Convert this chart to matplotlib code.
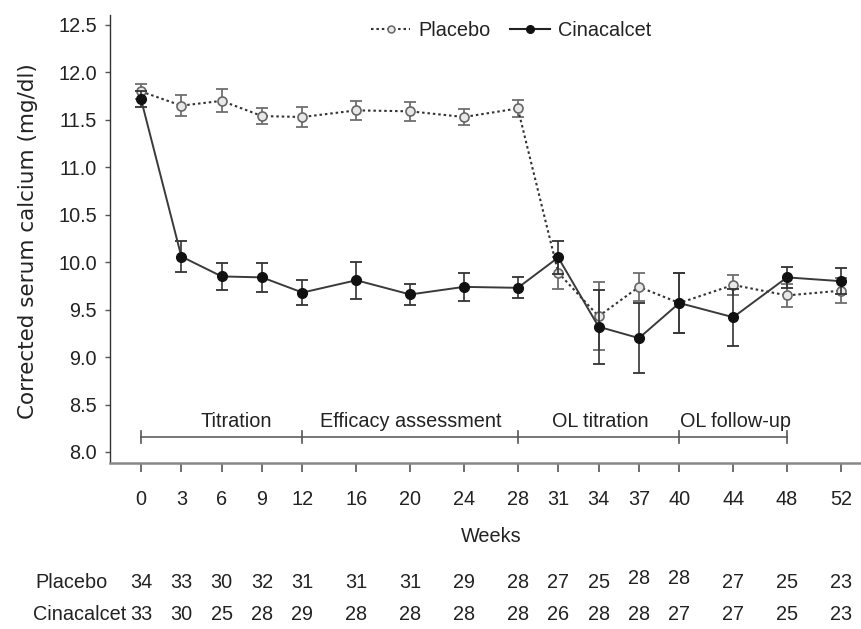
import matplotlib
matplotlib.use("Agg")
import matplotlib.pyplot as plt
import matplotlib.transforms as mtransforms
from matplotlib.lines import Line2D

# ---------------- data ----------------
weeks = [0, 3, 6, 9, 12, 16, 20, 24, 28, 31, 34, 37, 40, 44, 48, 52]
placebo_mean = [11.80, 11.65, 11.70, 11.54, 11.53, 11.60, 11.59, 11.53, 11.62,
                9.89, 9.43, 9.74, 9.57, 9.76, 9.65, 9.70]
placebo_err = [0.08, 0.11, 0.12, 0.08, 0.11, 0.10, 0.10, 0.08, 0.085,
               0.17, 0.36, 0.15, 0.32, 0.11, 0.12, 0.13]
cina_mean = [11.72, 10.06, 9.85, 9.84, 9.68, 9.81, 9.66, 9.74, 9.73,
             10.05, 9.32, 9.20, 9.57, 9.42, 9.84, 9.80]
cina_err = [0.08, 0.16, 0.145, 0.15, 0.135, 0.195, 0.11, 0.15, 0.11,
            0.17, 0.39, 0.37, 0.32, 0.30, 0.11, 0.14]
placebo_n = [34, 33, 30, 32, 31, 31, 31, 29, 28, 27, 25, 28, 28, 27, 25, 23]
cina_n = [33, 30, 25, 28, 29, 28, 28, 28, 28, 26, 28, 28, 27, 27, 25, 23]
phase_bounds = [0, 12, 28, 40, 48]
phase_labels = ["Titration", "Efficacy assessment", "OL titration", "OL follow-up"]
yticks = [8.0, 8.5, 9.0, 9.5, 10.0, 10.5, 11.0, 11.5, 12.0, 12.5]

# ---------------- style ----------------
NARROW = ["Liberation Sans", "DejaVu Sans"]
TXT = "#222222"
FS = 14.3

fig = plt.figure(figsize=(8.62, 6.29), dpi=100)
ax = fig.add_axes([110/862, (629-463)/629, (862-110)/862, (463-15)/629])

ax.set_xlim(-2.3, 53.57)
ax.set_ylim(7.884, 12.605)

# Placebo
ax.errorbar(weeks, placebo_mean, yerr=placebo_err, fmt="none", ecolor="#6e6e6e",
            elinewidth=1.3, capsize=4, capthick=1.3, zorder=2)
ax.plot(weeks, placebo_mean, linestyle=(0, (1.2, 1.4)), color="#333333", lw=1.5,
        marker="o", markersize=6.5, markerfacecolor="#e8e8e8",
        markeredgecolor="#666666", markeredgewidth=1.2, zorder=3)

# Cinacalcet
ax.errorbar(weeks, cina_mean, yerr=cina_err, fmt="none", ecolor="#333333",
            elinewidth=1.2, capsize=4, capthick=1.3, zorder=4)
ax.plot(weeks, cina_mean, linestyle="-", color="#3a3a3a", lw=1.4,
        marker="o", markersize=7, markerfacecolor="#111111",
        markeredgecolor="#111111", zorder=5)

# Phase bar
phase_y = 8.16
ax.plot([phase_bounds[0], phase_bounds[-1]], [phase_y, phase_y], color="#777777", lw=1.4, zorder=1)
for b in phase_bounds:
    ax.plot([b, b], [phase_y - 0.065, phase_y + 0.065], color="#555555", lw=1.2, zorder=1)
label_x = [7.05, 20.05, 34.1, 44.2]
for lx, lab in zip(label_x, phase_labels):
    ax.text(lx, 8.32, lab, ha="center", va="center", fontsize=FS, family=NARROW, color=TXT)

# Axes styling
for s in ["top", "right"]:
    ax.spines[s].set_visible(False)
ax.spines["left"].set_color("#333333")
ax.spines["left"].set_linewidth(1.0)
ax.spines["bottom"].set_color("#888888")
ax.spines["bottom"].set_linewidth(1.8)

ax.set_xticks(weeks)
ax.set_xticklabels([str(w) for w in weeks])
ax.set_yticks(yticks)
ax.set_yticklabels([f"{v:.1f}" for v in yticks])
ax.tick_params(axis="x", direction="out", length=6.5, width=1.2, color="#555555",
               pad=13, labelsize=FS, labelcolor=TXT)
ax.tick_params(axis="y", direction="out", length=3.6, width=1.0, color="#555555",
               pad=6, labelsize=FS, labelcolor=TXT)
for lab in ax.get_xticklabels() + ax.get_yticklabels():
    lab.set_family(NARROW)

fig.text(491/862, 1 - 536/629, "Weeks", ha="center", va="center",
         fontsize=FS, family=NARROW, color=TXT)
fig.text(28/862, 1 - 241/629, "Corrected serum calcium (mg/dl)", rotation=90,
         ha="center", va="center", fontsize=15.5, family=["DejaVu Sans"], color=TXT)

# Legend
h1 = Line2D([], [], linestyle=(0, (1.2, 1.4)), color="#333333", lw=1.5, marker="o",
            markersize=5, markerfacecolor="#e8e8e8", markeredgecolor="#666666",
            markeredgewidth=1.1)
h2 = Line2D([], [], linestyle="-", color="#222222", lw=1.5, marker="o",
            markersize=5.5, markerfacecolor="#111111", markeredgecolor="#111111")
leg = fig.legend([h1, h2], ["Placebo", "Cinacalcet"], loc="center",
                 bbox_to_anchor=(511/862, 1 - 30/629), ncol=2, frameon=False,
                 handlelength=2.0, handletextpad=0.4, columnspacing=1.0,
                 prop={"family": NARROW, "size": FS})
for t in leg.get_texts():
    t.set_color(TXT)

# Numbers at risk table
trans = mtransforms.blended_transform_factory(ax.transData, fig.transFigure)
row_y_p = 1 - 583/629
row_y_c = 1 - 615/629
raised = {37, 40}
fig.text(35/862, row_y_p, "Placebo", ha="left", va="center", fontsize=FS,
         family=NARROW, color=TXT)
fig.text(33/862, row_y_c, "Cinacalcet", ha="left", va="center", fontsize=FS,
         family=NARROW, color=TXT)
for w, n in zip(weeks, placebo_n):
    yy = row_y_p + (5/629 if w in raised else 0)
    ax.text(w, yy, str(n), transform=trans, ha="center", va="center",
            fontsize=FS, family=NARROW, color=TXT, clip_on=False)
for w, n in zip(weeks, cina_n):
    ax.text(w, row_y_c, str(n), transform=trans, ha="center", va="center",
            fontsize=FS, family=NARROW, color=TXT, clip_on=False)

fig.savefig("out.png", dpi=100)
